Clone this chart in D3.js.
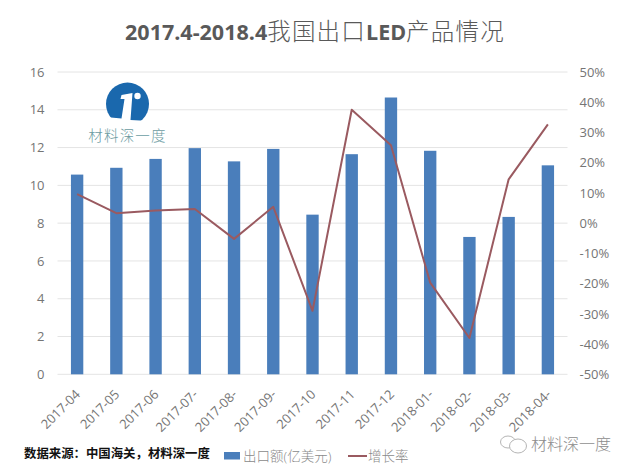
<!DOCTYPE html>
<html>
<head>
<meta charset="utf-8">
<script src="https://cdn.jsdelivr.net/npm/d3@7/dist/d3.min.js"></script>
<style>
    html, body { margin: 0; padding: 0; background: #fff; }
    svg { display: block; }
    text { font-family: "Open Sans", "Noto Sans CJK SC", sans-serif; }
</style>
</head>
<body>
<svg id="chart" width="630" height="472"></svg>
<script>
// values
var months = ["2017-04", "2017-05", "2017-06", "2017-07-", "2017-08-", "2017-09-", "2017-10",
    "2017-11", "2017-12", "2018-01-", "2018-02-", "2018-03-", "2018-04-"];
var exports_ = [10.57, 10.93, 11.4, 11.97, 11.27, 11.93, 8.45, 11.65, 14.65, 11.83, 7.27, 8.33, 11.06];
var growth = [9.6, 3.3, 4.2, 4.7, -5.2, 5.4, -29, 37.5, 25.8, -19.7, -38, 14.5, 32.7];
var leftTicks = [0, 2, 4, 6, 8, 10, 12, 14, 16];
var rightTicks = [-50, -40, -30, -20, -10, 0, 10, 20, 30, 40, 50];

var svg = d3.select("#chart");
var left = 57.5, right = 567.5, top_ = 72, bottom = 374.3;
var labelColor = "#757575";
var cjk = "'Noto Sans CJK SC', sans-serif";

var x = d3.scaleBand().domain(months).range([left, right]).paddingInner(0.685).paddingOuter(0.3425);
var y = d3.scaleLinear().domain([0, 16]).range([bottom, top_]);
var yRight = d3.scaleLinear().domain([-50, 50]).range([bottom, top_]);

// title, latin part bold and chinese part light like the original
var title = svg.append("text").attr("x", 315).attr("y", 40).attr("text-anchor", "middle").attr("fill", "#595959");
title.append("tspan").attr("font-size", 21.5).attr("font-weight", 700).text("2017.4-2018.4");
title.append("tspan").attr("font-size", 23.5).attr("font-family", cjk).attr("font-weight", 300).attr("letter-spacing", 1.2).text("我国出口");
title.append("tspan").attr("font-size", 21.5).attr("font-weight", 700).text("LED");
title.append("tspan").attr("font-size", 23.5).attr("font-family", cjk).attr("font-weight", 300).attr("letter-spacing", 1.2).text("产品情况");

// gridlines
svg.append("g").selectAll("line").data(leftTicks).join("line")
    .attr("x1", left).attr("x2", right)
    .attr("y1", d => y(d)).attr("y2", d => y(d))
    .attr("stroke", "#e4e4e4").attr("stroke-width", 1);

// axes, only the labels are kept
var axisLeft = svg.append("g").attr("transform", `translate(${left},0)`)
    .call(d3.axisLeft(y).tickValues(leftTicks).tickSize(0).tickPadding(13));
var axisRight = svg.append("g").attr("transform", `translate(${right},0)`)
    .call(d3.axisRight(yRight).tickValues(rightTicks).tickSize(0).tickPadding(12).tickFormat(d => d + "%"));
var axisBottom = svg.append("g").attr("transform", `translate(0,${bottom})`)
    .call(d3.axisBottom(x).tickSize(0));
for (var axis of [axisLeft, axisRight, axisBottom]) {
    axis.select(".domain").remove();
    axis.selectAll("text").attr("fill", labelColor).attr("font-size", 13)
        .attr("font-family", "'Open Sans', sans-serif");
}
// tick groups are already moved to their band, so this transform is relative to it
axisBottom.selectAll("text")
    .attr("text-anchor", "end")
    .attr("dx", 0).attr("dy", 0).attr("y", 0)
    .attr("transform", "translate(4,21) rotate(-45)");

// bars
svg.append("g").selectAll("rect").data(months).join("rect")
    .attr("x", d => x(d))
    .attr("width", x.bandwidth())
    .attr("y", (d, i) => y(exports_[i]))
    .attr("height", (d, i) => y(0) - y(exports_[i]))
    .attr("fill", "#4a7ebb");

// growth line
var line = d3.line()
    .x((d, i) => x(months[i]) + x.bandwidth() / 2)
    .y(d => yRight(d));
svg.append("path").datum(growth)
    .attr("d", line)
    .attr("fill", "none")
    .attr("stroke", "#9a5a60")
    .attr("stroke-width", 2)
    .attr("stroke-linejoin", "round");

// logo
var logo = svg.append("g").attr("transform", "translate(127.5,104)");
logo.append("circle").attr("r", 21.5).attr("fill", "#1a68ad");
logo.append("path").attr("d", "M-22,13 L-6,14.5 L-3,-5 L-7,-5 L-6,-9 L5,-11 L3,16 L22,17 L22,25 L-22,25 Z").attr("fill", "#fff");
logo.append("circle").attr("cx", 10).attr("cy", -8).attr("r", 3.2).attr("fill", "#fff");
svg.append("text").attr("x", 127.5).attr("y", 141).attr("text-anchor", "middle")
    .attr("font-family", cjk).attr("font-size", 14.5).attr("font-weight", 300).attr("letter-spacing", 1.2)
    .attr("fill", "#6b9ba1").text("材料深一度");

// source note
svg.append("text").attr("x", 24).attr("y", 458)
    .attr("font-family", cjk).attr("font-size", 12.4).attr("font-weight", 700)
    .attr("fill", "#111").text("数据来源：中国海关，材料深一度");

// legend
svg.append("rect").attr("x", 224).attr("y", 452).attr("width", 16).attr("height", 7.5).attr("fill", "#4a7ebb");
svg.append("text").attr("x", 243).attr("y", 461)
    .attr("font-family", cjk).attr("font-size", 13.5).attr("font-weight", 300).attr("fill", "#8a8a8a").text("出口额(亿美元)");
svg.append("line").attr("x1", 348).attr("x2", 367).attr("y1", 456).attr("y2", 456)
    .attr("stroke", "#9a5a60").attr("stroke-width", 2);
svg.append("text").attr("x", 368).attr("y", 461)
    .attr("font-family", cjk).attr("font-size", 13.5).attr("font-weight", 300).attr("fill", "#8a8a8a").text("增长率");

// wechat watermark
var mark = svg.append("g").attr("fill", "#fff").attr("stroke", "#b5b5b5").attr("stroke-width", 1);
mark.append("ellipse").attr("cx", 508).attr("cy", 442).attr("rx", 7.5).attr("ry", 6);
mark.append("ellipse").attr("cx", 518).attr("cy", 446).attr("rx", 8.5).attr("ry", 7);
svg.append("text").attr("x", 531).attr("y", 450)
    .attr("font-family", cjk).attr("font-size", 16).attr("font-weight", 300).attr("fill", "#8c8c8c").text("材料深一度");
</script>
</body>
</html>
